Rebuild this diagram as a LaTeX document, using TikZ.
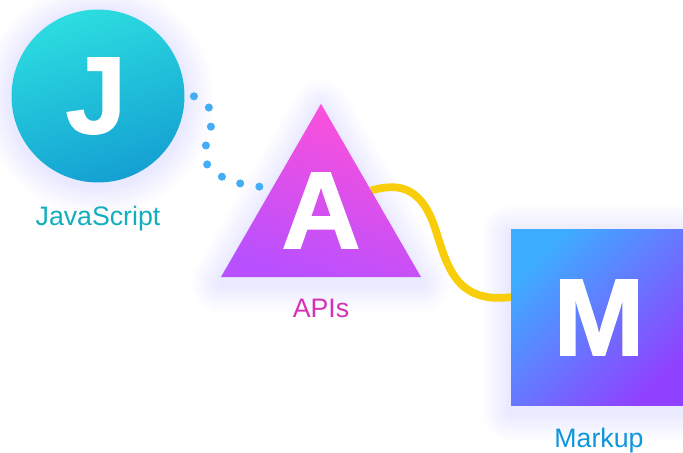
\documentclass[tikz,border=0pt]{standalone}
\usepackage{fontspec}
\setmainfont{Liberation Sans}
\usetikzlibrary{shapes.geometric}
\definecolor{halo}{HTML}{8F6BFF}
\definecolor{dotblue}{HTML}{44ADF6}
\definecolor{wireyellow}{HTML}{F8CE0A}
\definecolor{jstop}{HTML}{2CDDE0}
\definecolor{jsbot}{HTML}{14A0D2}
\definecolor{apitop}{HTML}{FF50D8}
\definecolor{apibot}{HTML}{B850FF}
\definecolor{mktop}{HTML}{3DAEFF}
\definecolor{mkbot}{HTML}{9040FF}
\definecolor{jstext}{HTML}{12AEBD}
\definecolor{apitext}{HTML}{D433B5}
\definecolor{mktext}{HTML}{0E96DC}
\pgfdeclarelayer{halos}
\pgfdeclarelayer{wires}
\pgfsetlayers{halos,wires,main}
\tikzset{
  halo/.style={draw=halo,draw opacity=0.012,line join=round,inner sep=0pt},
  shapebox/.style={inner sep=0pt,outer sep=0pt},
  letter/.style={anchor=base,text=white,font=\fontsize{62}{62}\selectfont\bfseries\addfontfeatures{FakeBold=1.5}},
  caption/.style={anchor=base,font=\fontsize{15.2}{18}\selectfont}
}
\begin{document}
\begin{tikzpicture}[x=0.02cm,y=-0.02cm]
  \def\jssize{3.46cm}
  \def\apisize{4.62cm}
  \def\mksize{3.54cm}
  \useasboundingbox (0,0) rectangle (683,453);
  \clip (0,0) rectangle (683,453);

  % Halos
  \begin{pgfonlayer}{halos}
    \fill[white] (0,0) rectangle (683,453);
    \foreach \g in {3,6,...,33} {
      \node[halo,circle,minimum size=\jssize,line width=\g pt] at (98,99) {};
      \node[halo,regular polygon,regular polygon sides=3,minimum size=\apisize,line width=\g pt] at (321,225) {};
      \node[halo,rectangle,minimum size=\mksize,line width=\g pt] at (599.5,323) {};
    }
  \end{pgfonlayer}

  % Shapes
  \node[shapebox,circle,minimum size=\jssize,top color=jstop,bottom color=jsbot,shading angle=18] (js) at (98,96) {};
  \node[shapebox,regular polygon,regular polygon sides=3,minimum size=\apisize,top color=apitop,bottom color=apibot,shading angle=-18] (api) at (321,219.3) {};
  \node[shapebox,rectangle,minimum size=\mksize,top color=mktop,bottom color=mkbot,shading angle=45] (mk) at (599.5,317.5) {};

  % Letters
  \node[letter] (letj) at (96,133) {J};
  \node[letter] (leta) at (321,248) {A};
  \node[letter] (letm) at (599,355) {M};

  % Captions
  \node[caption,text=jstext] (capjs) at (98,225) {JavaScript};
  \node[caption,text=apitext] (capapi) at (321,317) {APIs};
  \node[caption,text=mktext] (capmk) at (599,447) {Markup};

  % Connectors
  \begin{pgfonlayer}{wires}
    \draw[dotblue,line width=4.6pt,line cap=round,dash pattern=on 0pt off 0.39cm,dash phase=0.2cm]
      (js.east) .. controls (206,94) and (213,108) .. (211,126)
      .. controls (209,142) and (196,158) .. (214,172)
      .. controls (228,182) and (252,188) .. (api.146);
    \draw[wireyellow,line width=4.4pt]
      (api.30) .. controls (395,184) and (420,183) .. (435,228)
      .. controls (447,265) and (455,304) .. (mk.167);
  \end{pgfonlayer}
\end{tikzpicture}
\end{document}
